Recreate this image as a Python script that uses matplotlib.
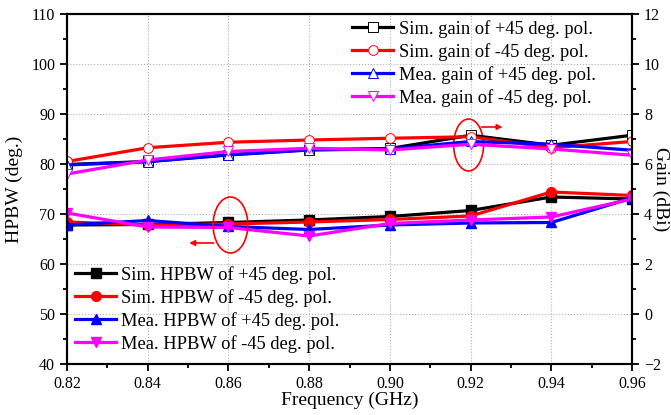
import matplotlib
matplotlib.use('Agg')
import matplotlib.pyplot as plt
from matplotlib.patches import Ellipse

plt.rcParams['font.family'] = ['Liberation Serif', 'DejaVu Serif']

freq = [0.82, 0.84, 0.86, 0.88, 0.90, 0.92, 0.94, 0.96]

# HPBW (deg.)
hpbw_sim_p45 = [67.8, 67.9, 68.3, 68.8, 69.5, 70.7, 73.4, 73.0]
hpbw_sim_m45 = [68.4, 67.8, 68.0, 68.4, 68.9, 69.6, 74.4, 73.7]
hpbw_mea_p45 = [67.8, 68.7, 67.5, 66.9, 67.8, 68.2, 68.3, 73.2]
hpbw_mea_m45 = [70.2, 67.4, 67.3, 65.6, 68.1, 68.8, 69.4, 73.0]

# Gain (dBi)
gain_sim_p45 = [5.98, 6.1, 6.37, 6.57, 6.62, 7.15, 6.75, 7.15]
gain_sim_m45 = [6.1, 6.65, 6.87, 6.96, 7.03, 7.09, 6.65, 6.9]
gain_mea_p45 = [5.96, 6.09, 6.36, 6.56, 6.6, 6.9, 6.79, 6.55]
gain_mea_m45 = [5.6, 6.16, 6.5, 6.63, 6.56, 6.79, 6.6, 6.35]

colors = ['black', 'red', 'blue', 'magenta']
hpbw_labels = ['Sim. HPBW of +45 deg. pol.', 'Sim. HPBW of -45 deg. pol.',
               'Mea. HPBW of +45 deg. pol.', 'Mea. HPBW of -45 deg. pol.']
gain_labels = ['Sim. gain of +45 deg. pol.', 'Sim. gain of -45 deg. pol.',
               'Mea. gain of +45 deg. pol.', 'Mea. gain of -45 deg. pol.']
markers = ['s', 'o', '^', 'v']

fig = plt.figure(figsize=(6.71, 4.15), dpi=100)
ax1 = fig.add_axes([0.0999, 0.1229, 0.8421, 0.8434])
ax2 = ax1.twinx()

hpbw = [hpbw_sim_p45, hpbw_sim_m45, hpbw_mea_p45, hpbw_mea_m45]
gain = [gain_sim_p45, gain_sim_m45, gain_mea_p45, gain_mea_m45]

h1 = []
for y, c, m, lab in zip(hpbw, colors, markers, hpbw_labels):
    l, = ax1.plot(freq, y, color=c, marker=m, markersize=7, linewidth=2.3,
                  markeredgecolor=c, markerfacecolor=c, label=lab)
    h1.append(l)

h2 = []
for y, c, m, lab in zip(gain, colors, markers, gain_labels):
    l, = ax2.plot(freq, y, color=c, marker=m, markersize=7, linewidth=2.3,
                  markeredgecolor=c, markerfacecolor='white', markeredgewidth=0.7,
                  label=lab)
    h2.append(l)

ax1.set_xlim(0.82, 0.96)
ax1.set_ylim(40, 110)
ax2.set_ylim(-2, 12)
ax1.set_xticks(freq)
ax1.set_xticklabels(['%.2f' % f for f in freq])
ax1.set_xticks([0.83, 0.85, 0.87, 0.89, 0.91, 0.93, 0.95], minor=True)
ax1.set_yticks(range(40, 111, 10))
ax1.set_yticks(range(45, 110, 10), minor=True)
ax2.set_yticks(range(-2, 13, 2))
ax2.set_yticks(range(-1, 12, 2), minor=True)

ax1.grid(True, which='major', linestyle=':', color='#b0b0b0', linewidth=0.8)
for ax in (ax1, ax2):
    ax.tick_params(which='both', direction='out', labelsize=11.5, width=1.3)
    ax.tick_params(which='major', length=5)
    ax.tick_params(which='minor', length=3)
    for s in ax.spines.values():
        s.set_linewidth(1.5)

ax1.set_xlabel('Frequency (GHz)', fontsize=14, labelpad=0)
ax1.set_ylabel('HPBW (deg.)', fontsize=14, labelpad=6)
ax2.set_ylabel('Gain (dBi)', fontsize=14, rotation=270, va='center')
ax2.yaxis.set_label_coords(1.05, 0.5)

# ellipses and arrows
ax1.add_patch(Ellipse((0.8605, 67.8), 0.0086, 11.2, fill=False, edgecolor='red', linewidth=1.2, zorder=5))
ax1.annotate('', xy=(0.8496, 64.2), xytext=(0.857, 64.2),
             arrowprops=dict(arrowstyle='-|>', color='red', lw=1.2, mutation_scale=8))
ax1.add_patch(Ellipse((0.9195, 83.8), 0.0074, 10.4, fill=False, edgecolor='red', linewidth=1.2, zorder=5))
ax1.annotate('', xy=(0.9286, 87.4), xytext=(0.922, 87.4),
             arrowprops=dict(arrowstyle='-|>', color='red', lw=1.2, mutation_scale=8))

ax1.legend(handles=h1, loc='lower left', bbox_to_anchor=(-0.005, 0.0), frameon=False,
           fontsize=13.3, handlelength=2.2, handletextpad=0.3, labelspacing=0.28,
           borderaxespad=0.2)
ax2.legend(handles=h2, loc='upper right', bbox_to_anchor=(0.955, 1.015), frameon=False,
           fontsize=13.3, handlelength=2.2, handletextpad=0.3, labelspacing=0.28,
           borderaxespad=0.2)

fig.savefig('out.png', dpi=100)
